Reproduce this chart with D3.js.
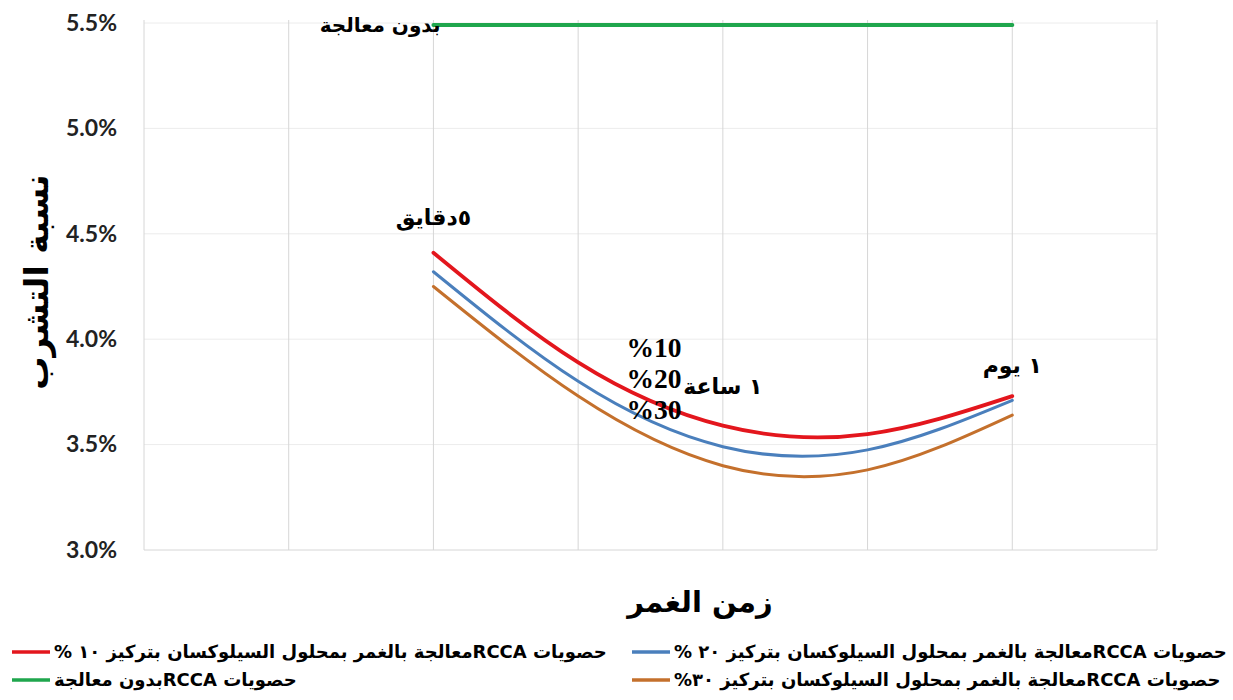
<!DOCTYPE html>
<html>
<head>
<meta charset="utf-8">
<script src="https://cdn.jsdelivr.net/npm/d3@7/dist/d3.min.js"></script>
<style>
  html, body { margin: 0; padding: 0; background: #fff; }
  svg { display: block; }
</style>
</head>
<body>
<svg id="chart" width="1233" height="700"></svg>
<script>
// Immersion-time positions (categorical slots along the x axis)
const positions = [2, 3, 4, 5, 6];

// Absorption ratio (%) for each treatment
const siloxane10 = [4.41, 3.89, 3.59, 3.55, 3.73];
const siloxane20 = [4.32, 3.80, 3.49, 3.475, 3.71];
const siloxane30 = [4.25, 3.73, 3.40, 3.38, 3.64];
const untreated  = [5.49, 5.49, 5.49, 5.49, 5.49];

const yTicks = [3.0, 3.5, 4.0, 4.5, 5.0, 5.5];
const xGrid = [0, 1, 2, 3, 4, 5, 6, 7];

const timeLabels = ["٥دقايق", "١ ساعة", "١ يوم"];
const timeLabelPos = [2, 4, 6];
const concLabels = ["%10", "%20", "%30"];

const legendLabels = [
  "حصويات  RCCAمعالجة بالغمر بمحلول السيلوكسان بتركيز ١٠ %",
  "حصويات  RCCAمعالجة بالغمر بمحلول السيلوكسان بتركيز ٢٠ %",
  "حصويات  RCCAبدون معالجة",
  "حصويات  RCCAمعالجة بالغمر بمحلول السيلوكسان بتركيز ٣٠%"
];

const colors = { s10: "#e3161d", s20: "#4a7fbc", s30: "#c4702c", none: "#1fa64d" };

const svg = d3.select("#chart");
const plot = { left: 144, right: 1157, top: 23, bottom: 550 };

const x = d3.scaleLinear().domain([0, 7]).range([plot.left, plot.right]);
const y = d3.scaleLinear().domain([3.0, 5.5]).range([plot.bottom, plot.top]);

// Horizontal gridlines
svg.append("g")
  .selectAll("line")
  .data(yTicks.filter(d => d > 3.0))
  .join("line")
  .attr("x1", plot.left).attr("x2", plot.right)
  .attr("y1", d => y(d)).attr("y2", d => y(d))
  .attr("stroke", "#ececec").attr("stroke-width", 1);

// Vertical gridlines
svg.append("g")
  .selectAll("line")
  .data(xGrid)
  .join("line")
  .attr("x1", d => x(d)).attr("x2", d => x(d))
  .attr("y1", plot.top - 3).attr("y2", plot.bottom)
  .attr("stroke", "#d6d6d6").attr("stroke-width", 1);

// Bottom axis line
svg.append("line")
  .attr("x1", plot.left).attr("x2", plot.right)
  .attr("y1", plot.bottom).attr("y2", plot.bottom)
  .attr("stroke", "#d6d6d6").attr("stroke-width", 1);

// Y axis tick labels
const yAxis = d3.axisLeft(y).tickValues(yTicks).tickSize(0).tickPadding(0);
const yAxisG = svg.append("g")
  .attr("transform", `translate(${plot.left - 27},0)`)
  .call(yAxis);
yAxisG.select(".domain").remove();
yAxisG.selectAll("text")
  .text(d => d.toFixed(1) + "%")
  .attr("font-family", "Lato, 'Open Sans', sans-serif")
  .attr("font-weight", "bold")
  .attr("font-size", 23)
  .attr("fill", "#222");

// Series lines
const line = d3.line()
  .x(d => x(d[0]))
  .y(d => y(d[1]))
  .curve(d3.curveNatural);

const series = [
  { values: untreated, color: colors.none, width: 4 },
  { values: siloxane30, color: colors.s30, width: 3 },
  { values: siloxane20, color: colors.s20, width: 3 },
  { values: siloxane10, color: colors.s10, width: 3.8 }
];

svg.append("g")
  .selectAll("path")
  .data(series)
  .join("path")
  .attr("d", s => line(positions.map((p, i) => [p, s.values[i]])))
  .attr("fill", "none")
  .attr("stroke", s => s.color)
  .attr("stroke-width", s => s.width)
  .attr("stroke-linecap", "round");

// Annotation: untreated
svg.append("text")
  .attr("x", x(positions[0]) + 7)
  .attr("y", y(untreated[0]) + 7)
  .attr("text-anchor", "end")
  .attr("font-family", "'DejaVu Sans', sans-serif")
  .attr("font-weight", "bold")
  .attr("font-size", 20)
  .attr("fill", "#000")
  .text("بدون معالجة");

// Annotations: immersion times
const timeOffsets = [[0, -28], [0, -32], [0, -23]];
svg.append("g")
  .selectAll("text")
  .data(timeLabels)
  .join("text")
  .attr("x", (d, i) => x(timeLabelPos[i]) + timeOffsets[i][0])
  .attr("y", (d, i) => y(siloxane10[positions.indexOf(timeLabelPos[i])]) + timeOffsets[i][1])
  .attr("text-anchor", "middle")
  .attr("font-family", "'DejaVu Sans', sans-serif")
  .attr("font-weight", "bold")
  .attr("font-size", 22)
  .attr("fill", "#000")
  .text(d => d);

// Annotations: concentrations
svg.append("g")
  .selectAll("text")
  .data(concLabels)
  .join("text")
  .attr("x", 654)
  .attr("y", (d, i) => 357 + i * 31)
  .attr("text-anchor", "middle")
  .attr("font-family", "'Liberation Serif', 'Times New Roman', serif")
  .attr("font-weight", "bold")
  .attr("font-size", 27.5)
  .attr("fill", "#000")
  .text(d => d);

// Axis titles
svg.append("text")
  .attr("x", 700)
  .attr("y", 612)
  .attr("text-anchor", "middle")
  .attr("font-family", "'DejaVu Sans', sans-serif")
  .attr("font-weight", "bold")
  .attr("font-size", 29)
  .attr("fill", "#000")
  .text("زمن الغمر");

svg.append("text")
  .attr("transform", "translate(48,282) rotate(-90)")
  .attr("text-anchor", "middle")
  .attr("font-family", "'DejaVu Sans', sans-serif")
  .attr("font-weight", "bold")
  .attr("font-size", 33)
  .attr("fill", "#000")
  .text("نسبة التشرب");

// Legend (two columns, two rows)
const legendColors = [colors.s10, colors.s20, colors.none, colors.s30];
const legendX = [12, 632];
const legendY = [652, 680];
const legend = svg.append("g")
  .selectAll("g")
  .data(legendLabels)
  .join("g")
  .attr("transform", (d, i) => `translate(${legendX[i % 2]},${legendY[Math.floor(i / 2)]})`);

legend.append("line")
  .attr("x1", 0).attr("x2", 38)
  .attr("y1", 0).attr("y2", 0)
  .attr("stroke", (d, i) => legendColors[i])
  .attr("stroke-width", 3.5);

legend.append("text")
  .attr("x", 42)
  .attr("y", 6)
  .attr("direction", "rtl")
  .attr("text-anchor", "end")
  .attr("font-family", "'DejaVu Sans', sans-serif")
  .attr("font-weight", "bold")
  .attr("font-size", 18)
  .attr("fill", "#000")
  .text(d => d);
</script>
</body>
</html>
